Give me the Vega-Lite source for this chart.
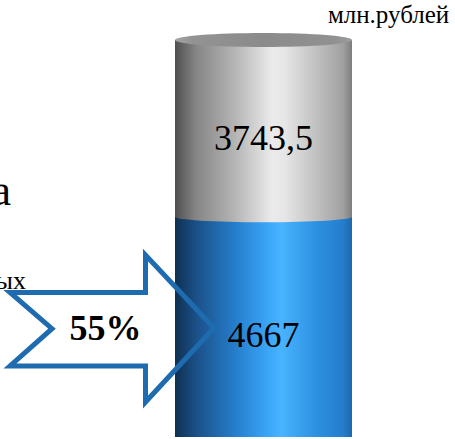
{
  "$schema": "https://vega.github.io/schema/vega-lite/v6.json",
  "width": 303,
  "height": 439,
  "autosize": {"type": "none"},
  "padding": {"left": 36.25, "right": 115.75, "top": 0, "bottom": 0},
  "background": "#ffffff",
  "config": {
    "view": {"stroke": null},
    "font": "Liberation Serif",
    "locale": {"number": {"decimal": ",", "thousands": "", "grouping": [3], "currency": ["", ""]}}
  },
  "title": {
    "text": "млн.рублей",
    "anchor": "end",
    "frame": "group",
    "dx": 110,
    "offset": -48,
    "baseline": "alphabetic",
    "font": "Liberation Serif",
    "fontSize": 25,
    "fontWeight": "normal",
    "color": "#000000"
  },
  "data": {
    "values": [
      {"category": "total", "part": "lower", "value": 4667, "share": "55%"},
      {"category": "total", "part": "upper", "value": 3743.5, "share": "45%"}
    ]
  },
  "transform": [
    {"stack": "value", "groupby": [], "as": ["y0", "y1"], "sort": [{"field": "part", "order": "ascending"}]}
  ],
  "layer": [
    {
      "transform": [{"filter": "datum.part === 'lower'"}],
      "mark": {
        "type": "bar",
        "width": 177,
        "fill": {
          "gradient": "linear", "x1": 0, "y1": 0, "x2": 1, "y2": 0,
          "stops": [
            {"offset": 0, "color": "#0f3050"},
            {"offset": 0.12, "color": "#1b5088"},
            {"offset": 0.35, "color": "#2680cf"},
            {"offset": 0.52, "color": "#3aa4f6"},
            {"offset": 0.6, "color": "#48b4ff"},
            {"offset": 0.8, "color": "#2d90e0"},
            {"offset": 0.95, "color": "#247dcb"},
            {"offset": 1, "color": "#1c68ad"}
          ]
        }
      },
      "encoding": {
        "x": {"field": "category", "type": "nominal", "scale": {"domain": ["share", "total"], "paddingInner": 0, "paddingOuter": 0}, "axis": null},
        "y": {"field": "y1", "type": "quantitative", "scale": {"domain": [-42.4, 9258], "nice": false, "zero": false}, "axis": null},
        "y2": {"field": "y0"}
      }
    },
    {
      "transform": [{"filter": "datum.part === 'upper'"}],
      "mark": {
        "type": "bar",
        "width": 177,
        "fill": {
          "gradient": "linear", "x1": 0, "y1": 0, "x2": 1, "y2": 0,
          "stops": [
            {"offset": 0, "color": "#4f4f4f"},
            {"offset": 0.12, "color": "#868686"},
            {"offset": 0.33, "color": "#b3b3b3"},
            {"offset": 0.55, "color": "#ebebeb"},
            {"offset": 0.62, "color": "#e6e6e6"},
            {"offset": 0.82, "color": "#bcbcbc"},
            {"offset": 0.95, "color": "#a0a0a0"},
            {"offset": 1, "color": "#7e7e7e"}
          ]
        }
      },
      "encoding": {
        "x": {"field": "category", "type": "nominal", "axis": null},
        "y": {"field": "y1", "type": "quantitative", "axis": null},
        "y2": {"field": "y0"}
      }
    },
    {
      "transform": [{"filter": "datum.part === 'upper'"}],
      "mark": {
        "type": "point",
        "filled": true,
        "opacity": 1,
        "strokeWidth": 0,
        "size": 31329,
        "shape": "M-1,0C-1,-0.0342,-0.5523,-0.062,0,-0.062C0.5523,-0.062,1,-0.0342,1,0C1,0.0342,0.5523,0.062,0,0.062C-0.5523,0.062,-1,0.0342,-1,0Z",
        "fill": {
          "gradient": "linear", "x1": 0, "y1": 0, "x2": 1, "y2": 0,
          "stops": [
            {"offset": 0, "color": "#4f4f4f"},
            {"offset": 0.12, "color": "#868686"},
            {"offset": 0.33, "color": "#b3b3b3"},
            {"offset": 0.55, "color": "#ebebeb"},
            {"offset": 0.62, "color": "#e6e6e6"},
            {"offset": 0.82, "color": "#bcbcbc"},
            {"offset": 0.95, "color": "#a0a0a0"},
            {"offset": 1, "color": "#7e7e7e"}
          ]
        }
      },
      "encoding": {
        "x": {"field": "category", "type": "nominal", "axis": null},
        "y": {"field": "y0", "type": "quantitative", "axis": null}
      }
    },
    {
      "transform": [{"filter": "datum.part === 'upper'"}],
      "mark": {
        "type": "point",
        "filled": true,
        "opacity": 1,
        "strokeWidth": 0,
        "size": 31329,
        "shape": "M-1,0C-1,-0.0436,-0.5523,-0.079,0,-0.079C0.5523,-0.079,1,-0.0436,1,0C1,0.0436,0.5523,0.079,0,0.079C-0.5523,0.079,-1,0.0436,-1,0Z",
        "fill": {
          "gradient": "linear", "x1": 0, "y1": 0, "x2": 1, "y2": 0,
          "stops": [
            {"offset": 0, "color": "#a4a4a4"},
            {"offset": 0.1, "color": "#939393"},
            {"offset": 0.5, "color": "#8b8b8b"},
            {"offset": 0.9, "color": "#919191"},
            {"offset": 1, "color": "#9c9c9c"}
          ]
        }
      },
      "encoding": {
        "x": {"field": "category", "type": "nominal", "axis": null},
        "y": {"field": "y1", "type": "quantitative", "axis": null}
      }
    },
    {
      "transform": [{"filter": "datum.part === 'upper'"}],
      "mark": {"type": "text", "font": "Liberation Serif", "fontSize": 36, "color": "#000000", "align": "center", "baseline": "alphabetic", "dy": 110},
      "encoding": {
        "x": {"field": "category", "type": "nominal", "axis": null},
        "y": {"field": "y1", "type": "quantitative", "axis": null},
        "text": {"field": "value", "type": "quantitative", "format": ".1~f"}
      }
    },
    {
      "transform": [{"filter": "datum.part === 'lower'"}],
      "mark": {"type": "text", "font": "Liberation Serif", "fontSize": 36, "color": "#000000", "align": "center", "baseline": "alphabetic", "dy": 130},
      "encoding": {
        "x": {"field": "category", "type": "nominal", "axis": null},
        "y": {"field": "y1", "type": "quantitative", "axis": null},
        "text": {"field": "value", "type": "quantitative", "format": ".1~f"}
      }
    },
    {
      "transform": [{"filter": "datum.part === 'lower'"}],
      "mark": {
        "type": "point",
        "filled": false,
        "opacity": 1,
        "fill": null,
        "stroke": "#1e6bb0",
        "strokeWidth": 5,
        "strokeJoin": "miter",
        "size": 40000,
        "shape": "M-1.02,0.758L0.335,0.758L0.335,0.383L1.02,1.113L0.335,1.853L0.335,1.493L-1.02,1.493L-0.6,1.12Z"
      },
      "encoding": {
        "x": {"datum": "share", "type": "nominal", "axis": null},
        "y": {"field": "y1", "type": "quantitative", "axis": null}
      }
    },
    {
      "transform": [{"filter": "datum.part === 'lower'"}],
      "mark": {"type": "text", "font": "Liberation Serif", "fontSize": 36, "fontWeight": "bold", "color": "#000000", "align": "center", "baseline": "alphabetic", "dx": -6.5, "dy": 123},
      "encoding": {
        "x": {"datum": "share", "type": "nominal", "axis": null},
        "y": {"field": "y1", "type": "quantitative", "axis": null},
        "text": {"field": "share", "type": "nominal"}
      }
    },
    {
      "transform": [{"filter": "datum.part === 'lower'"}],
      "mark": {"type": "text", "text": "а", "font": "Liberation Serif", "fontSize": 44, "color": "#000000", "align": "right", "baseline": "alphabetic", "dx": -101, "dy": -12},
      "encoding": {
        "x": {"datum": "share", "type": "nominal", "axis": null},
        "y": {"field": "y1", "type": "quantitative", "axis": null}
      }
    },
    {
      "transform": [{"filter": "datum.part === 'lower'"}],
      "mark": {"type": "text", "text": "ых", "font": "Liberation Serif", "fontSize": 26, "color": "#000000", "align": "right", "baseline": "alphabetic", "dx": -86, "dy": 72},
      "encoding": {
        "x": {"datum": "share", "type": "nominal", "axis": null},
        "y": {"field": "y1", "type": "quantitative", "axis": null}
      }
    }
  ]
}
